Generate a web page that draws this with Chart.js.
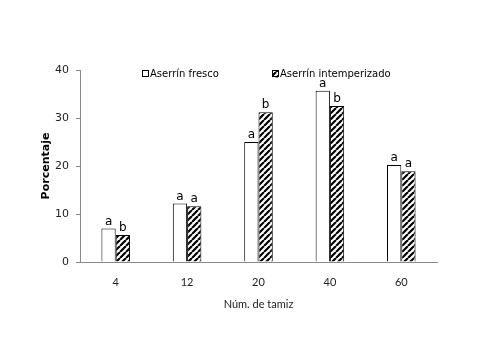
<!DOCTYPE html>
<html>
<head>
<meta charset="utf-8">
<script src="https://cdn.jsdelivr.net/npm/chart.js@4/dist/chart.umd.min.js"></script>
<style>
    html, body { margin: 0; padding: 0; background: #fff; }
    #wrap { width: 482px; height: 339px; }
</style>
</head>
<body>
<div id="wrap"><canvas id="chart"></canvas></div>
<script>
const categories = ['4', '12', '20', '40', '60'];
const fresco = [7.0, 12.2, 25.0, 35.7, 20.2];
const intemperizado = [5.6, 11.6, 31.2, 32.5, 18.9];
const frescoLetters = ['a', 'a', 'a', 'a', 'a'];
const intempLetters = ['b', 'a', 'b', 'b', 'a'];
const seriesNames = ['Aserrín fresco', 'Aserrín intemperizado'];
const yTicks = [0, 10, 20, 30, 40];

function makeHatch() {
    const size = 6;
    const c = document.createElement('canvas');
    c.width = size;
    c.height = size;
    const g = c.getContext('2d');
    g.fillStyle = '#fff';
    g.fillRect(0, 0, size, size);
    g.strokeStyle = '#000';
    g.lineWidth = 2.2;
    g.beginPath();
    for (let k = -1; k <= 1; k++) {
        g.moveTo(k * size, size);
        g.lineTo(k * size + size, 0);
    }
    g.stroke();
    return g.createPattern(c, 'repeat');
}

const hatch = makeHatch();
const letters = [frescoLetters, intempLetters];

// letters above bars + manual legend inside the plot
const annotations = {
    id: 'annotations',
    afterDatasetsDraw(chart) {
        const ctx = chart.ctx;
        ctx.save();
        ctx.fillStyle = '#000';
        ctx.font = '12px "DejaVu Sans"';
        ctx.textAlign = 'center';
        ctx.textBaseline = 'bottom';
        chart.data.datasets.forEach((ds, i) => {
            chart.getDatasetMeta(i).data.forEach((bar, j) => {
                ctx.fillText(letters[i][j], bar.x, bar.y - 1);
            });
        });

        ctx.font = '10px "DejaVu Sans"';
        ctx.textAlign = 'left';
        ctx.textBaseline = 'middle';
        const legendX = [142, 272];
        const legendY = 74;
        chart.data.datasets.forEach((ds, i) => {
            const x = legendX[i];
            ctx.fillStyle = ds.backgroundColor;
            ctx.fillRect(x, legendY - 3.5, 7, 7);
            ctx.strokeStyle = '#000';
            ctx.lineWidth = 1;
            ctx.strokeRect(x + 0.5, legendY - 3.5, 6, 6);
            ctx.fillStyle = '#000';
            ctx.fillText(ds.label, x + 8, legendY);
        });
        ctx.restore();
    }
};

new Chart(document.getElementById('chart'), {
    type: 'bar',
    data: {
        labels: categories,
        datasets: [
            {
                label: seriesNames[0],
                data: fresco,
                backgroundColor: '#fff',
                borderColor: '#000',
                borderWidth: 1
            },
            {
                label: seriesNames[1],
                data: intemperizado,
                backgroundColor: hatch,
                borderColor: '#000',
                borderWidth: 1
            }
        ]
    },
    options: {
        responsive: true,
        maintainAspectRatio: false,
        animation: false,
        layout: {
            padding: { left: 35, right: 45, top: 70, bottom: 28 }
        },
        plugins: {
            legend: { display: false },
            tooltip: { enabled: false }
        },
        datasets: {
            bar: { categoryPercentage: 0.4, barPercentage: 1.0 }
        },
        scales: {
            x: {
                grid: { display: false },
                border: { color: '#8a8a8a', width: 1 },
                ticks: {
                    color: '#222',
                    font: { family: 'Lato', size: 11 },
                    padding: 6
                },
                title: {
                    display: true,
                    text: 'Núm. de tamiz',
                    color: '#222',
                    font: { family: 'Lato', size: 11 },
                    padding: { top: 14, bottom: 0 }
                },
                afterFit(scale) { scale.height = 49; }
            },
            y: {
                min: 0,
                max: 40,
                afterBuildTicks(scale) {
                    scale.ticks = yTicks.map(v => ({ value: v }));
                },
                grid: {
                    drawOnChartArea: false,
                    drawTicks: true,
                    tickLength: 4,
                    color: '#8a8a8a'
                },
                border: { color: '#8a8a8a', width: 1 },
                ticks: {
                    color: '#222',
                    font: { family: 'DejaVu Sans', size: 11 },
                    padding: 7
                },
                title: {
                    display: true,
                    text: 'Porcentaje',
                    color: '#000',
                    font: { family: 'DejaVu Sans', size: 11, weight: 'bold' },
                    padding: { top: 5, bottom: 4 }
                },
                afterFit(scale) { scale.width = 45; }
            }
        }
    },
    plugins: [annotations]
});
</script>
</body>
</html>
